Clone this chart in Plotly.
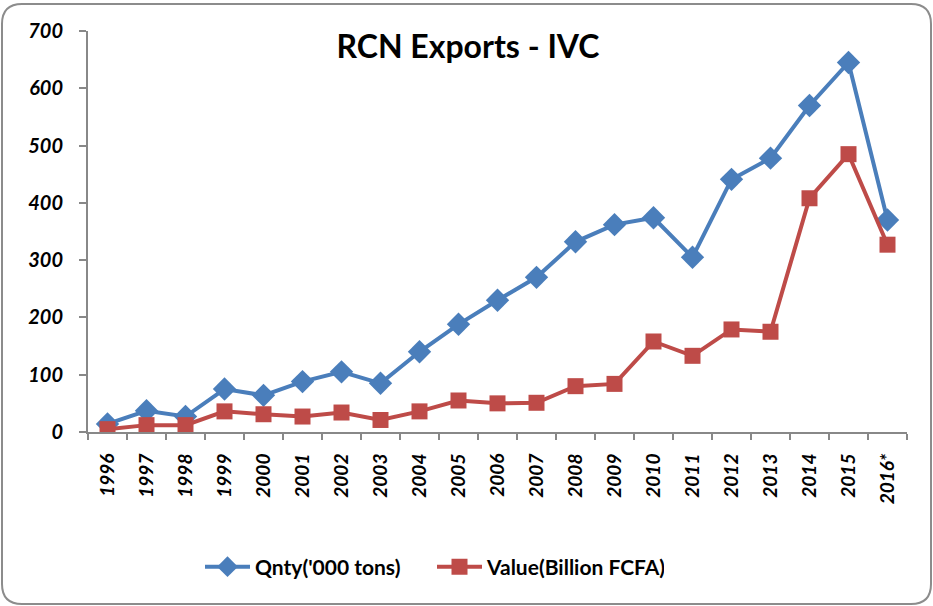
import plotly.graph_objects as go

years = ["1996", "1997", "1998", "1999", "2000", "2001", "2002", "2003", "2004", "2005",
         "2006", "2007", "2008", "2009", "2010", "2011", "2012", "2013", "2014", "2015", "2016*"]
qnty = [14, 37, 27, 75, 64, 88, 105, 85, 140, 188, 230, 270, 332, 362, 374, 305, 441, 478, 570, 645, 370]
value = [5, 12, 12, 36, 31, 27, 34, 21, 36, 55, 50, 51, 80, 84, 158, 133, 179, 175, 408, 485, 327]
y_ticks = [0, 100, 200, 300, 400, 500, 600, 700]

W, H = 933, 606
L, R, T, B = 88, 26, 31, 174
pw, ph = W - L - R, H - T - B

def fx(px):
    return (px - L) / pw

def fy(py):
    return (H - B - py) / ph

# rounded border path in paper coords
x0, x1, y0, y1, r = 2, 931, 4, 604, 20
pts = (f"M {fx(x0+r)},{fy(y0)} L {fx(x1-r)},{fy(y0)} Q {fx(x1)},{fy(y0)} {fx(x1)},{fy(y0+r)} "
       f"L {fx(x1)},{fy(y1-r)} Q {fx(x1)},{fy(y1)} {fx(x1-r)},{fy(y1)} "
       f"L {fx(x0+r)},{fy(y1)} Q {fx(x0)},{fy(y1)} {fx(x0)},{fy(y1-r)} "
       f"L {fx(x0)},{fy(y0+r)} Q {fx(x0)},{fy(y0)} {fx(x0+r)},{fy(y0)} Z")

fig = go.Figure()
fig.add_trace(go.Scatter(x=years, y=qnty, name="Qnty('000 tons)", mode="lines+markers",
                         line=dict(color="#4A7EBB", width=4),
                         marker=dict(symbol="diamond", size=18, color="#4A7EBB")))
fig.add_trace(go.Scatter(x=years, y=value, name="Value(Billion FCFA)", mode="lines+markers",
                         line=dict(color="#BE4B48", width=4),
                         marker=dict(symbol="square", size=16, color="#BE4B48")))

font_family = "Lato, Open Sans, sans-serif"
fig.update_layout(
    width=W, height=H,
    margin=dict(l=L, r=R, t=T, b=B),
    paper_bgcolor="white", plot_bgcolor="white",
    font=dict(family=font_family, color="black"),
    title=dict(text="<b>RCN Exports - IVC</b>", xref="container", x=468 / W, xanchor="center",
               y=1 - 47 / H, yanchor="middle", font=dict(size=32, family=font_family)),
    showlegend=True,
    legend=dict(orientation="h", x=fx(200), xanchor="left", y=fy(567), yanchor="middle",
                font=dict(size=21, family=font_family, weight="bold"), itemwidth=45,
                entrywidth=172, entrywidthmode="pixels",
                bgcolor="rgba(0,0,0,0)"),
    xaxis=dict(type="category", range=[-0.5, 20.5], showline=True, linecolor="#888888", linewidth=2,
               ticks="outside", tickson="boundaries", ticklen=6, tickcolor="#888888", tickwidth=2,
               tickangle=-90, showgrid=False, zeroline=False, ticklabelstandoff=12,
               tickfont=dict(size=19, family=font_family, weight="bold", style="italic")),
    yaxis=dict(range=[0, 700], tickvals=y_ticks, showline=True, linecolor="#888888", linewidth=2,
               ticks="outside", ticklen=7, tickcolor="#888888", tickwidth=2,
               showgrid=False, zeroline=False, ticklabelstandoff=12,
               tickfont=dict(size=20, family=font_family, weight="bold", style="italic")),
    shapes=[dict(type="path", xref="paper", yref="paper", path=pts,
                 line=dict(color="#8C8C8C", width=2), fillcolor="rgba(0,0,0,0)", layer="below")],
)

fig.write_html("out.html", config={"displayModeBar": False},
               post_script="document.body.style.margin='0';document.body.style.padding='0';")
